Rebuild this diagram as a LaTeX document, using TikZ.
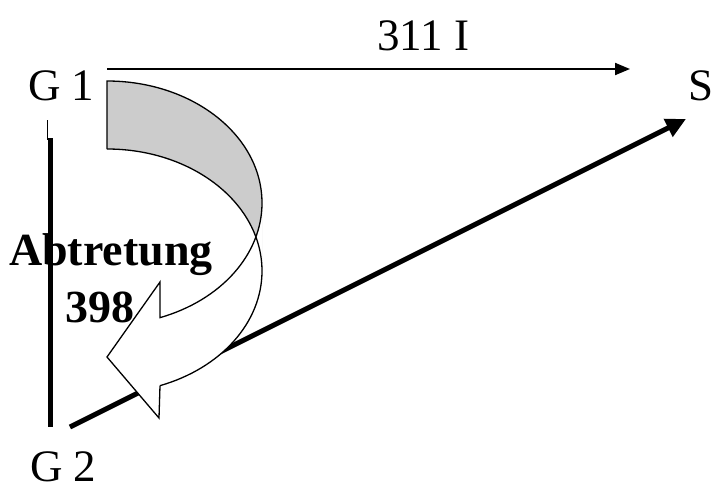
\documentclass[tikz,border=0pt]{standalone}
\usepackage{fontspec}
\setmainfont{Liberation Serif}
\usetikzlibrary{arrows.meta}
\definecolor{backgray}{HTML}{CCCCCC}
\begin{document}
\begin{tikzpicture}[x=1pt,y=-1pt,
  lbl/.style={anchor=base west,inner sep=0pt,font=\fontsize{45}{45}\selectfont},
  boldlbl/.style={anchor=base west,inner sep=0pt,font=\fontsize{46}{46}\selectfont\bfseries},
  thinarrow/.style={line width=2pt,-{Triangle[length=15pt,width=12pt]}},
  thickarrow/.style={line width=5pt,-{Triangle[length=20pt,width=19pt]}},
  bandline/.style={line width=1.3pt,line join=miter},
  ellA/.style={x radius=155pt,y radius=122pt}]
\useasboundingbox (0,0) rectangle (712,488);
% coordinates
\coordinate (ta0) at (107,69);
\coordinate (ta1) at (630,69);
\coordinate (d0) at (70,427);
\coordinate (d1) at (686,119);
\coordinate (v0) at (50,138);
\coordinate (v1) at (50,427);
\coordinate (s0) at (47.5,120);
\coordinate (s1) at (47.5,140);
% labels
\node[lbl] (t311) at (377,50) {311 I};
\node[lbl] (G1) at (28,100) {G 1};
\node[lbl] (S) at (688,100) {S};
\node[lbl] (G2) at (30,481) {G 2};
% connectors
\draw[thinarrow] (ta0) -- (ta1);
\draw[thickarrow] (d0) -- (d1);
% curved arrow: back (gray) part
\fill[backgray] (107,81) arc[start angle=90,end angle=0,ellA] -- (262,271)
  arc[start angle=0,end angle=90,ellA] -- cycle;
% front (white) part
\fill[white] (262,203) arc[start angle=0,end angle=-70,ellA]
  -- (160,282) -- (107,357) -- (159,418) -- (160,385.6)
  arc[start angle=-70,end angle=0,ellA] -- cycle;
% outlines
\draw[bandline] (107,149) -- (107,81) arc[start angle=90,end angle=-70,ellA]
  -- (160,282) -- (107,357) -- (159,418) -- (160,385.6);
\draw[bandline] (107,149) arc[start angle=90,end angle=-70,ellA];
% bold labels
\node[boldlbl] (abtr) at (9,265) {Abtretung};
\node[boldlbl] (n398) at (65,322) {398};
% vertical line
\draw[line width=5pt] (v0) -- (v1);
\draw[line width=1.2pt] (s0) -- (s1);
\end{tikzpicture}
\end{document}
